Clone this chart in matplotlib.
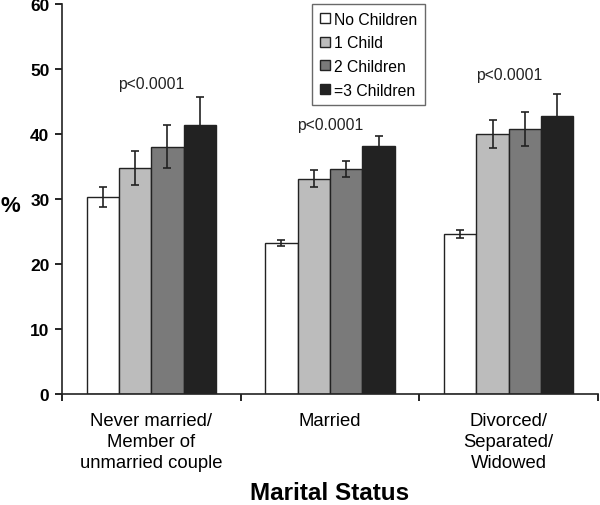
import matplotlib
matplotlib.use("Agg")
import matplotlib.pyplot as plt
import numpy as np

plt.rcParams['font.family'] = ['Liberation Sans', 'DejaVu Sans']

categories = ["Never married/\nMember of\nunmarried couple", "Married", "Divorced/\nSeparated/\nWidowed"]
series = ["No Children", "1 Child", "2 Children", "=3 Children"]
values = [
    [30.3, 23.2, 24.6],
    [34.7, 33.1, 40.0],
    [38.0, 34.6, 40.7],
    [41.4, 38.2, 42.7],
]
errors = [
    [1.5, 0.5, 0.6],
    [2.6, 1.3, 2.2],
    [3.3, 1.2, 2.6],
    [4.3, 1.5, 3.5],
]
pvalue_labels = ["p<0.0001", "p<0.0001", "p<0.0001"]
pvalue_y = [47.7, 41.5, 49.2]
colors = ["#ffffff", "#bcbcbc", "#7a7a7a", "#222222"]

fig = plt.figure(figsize=(6.0, 5.06), dpi=100)
ax = fig.add_axes([0.1033, 0.2194, 0.8934, 0.771])

x = np.arange(len(categories))
w = 0.181
for i, s in enumerate(series):
    pos = x + (i - 1.5) * w
    ax.bar(pos, values[i], width=w, color=colors[i], edgecolor="#222222",
           linewidth=1.0, label=s, zorder=2)
    ax.errorbar(pos, values[i], yerr=errors[i], fmt='none', ecolor="#222222",
                elinewidth=1.2, capsize=3, capthick=1.2, zorder=3)

for xi, lab, yy in zip(x, pvalue_labels, pvalue_y):
    ax.text(xi, yy, lab, ha='center', va='center', fontsize=11.3, color="#222222")

ax.set_xlim(-0.5, 2.5)
ax.set_ylim(0, 60)
ax.set_yticks(range(0, 61, 10))
ax.set_yticklabels([str(v) for v in range(0, 61, 10)], fontweight='bold', fontsize=12.5)
ax.set_xticks([-0.5, 0.5, 1.5, 2.5])
ax.set_xticklabels([])
ax.set_xticks(x, minor=True)
ax.set_xticklabels(categories, minor=True, fontsize=13.3, linespacing=1.32)
ax.tick_params(axis='x', which='minor', length=0, pad=13)
ax.tick_params(axis='x', which='major', length=5, width=1.2, direction='out')
ax.tick_params(axis='y', length=5, width=1.2, direction='out', pad=4)
for sp in ['top', 'right']:
    ax.spines[sp].set_visible(False)
for sp in ['left', 'bottom']:
    ax.spines[sp].set_linewidth(1.2)
    ax.spines[sp].set_color("#222222")

ax.set_ylabel("%", fontweight='bold', fontsize=16, rotation=0, va='center', ha='center')
ax.yaxis.set_label_coords(-0.097, 0.482)
ax.set_xlabel("Marital Status", fontweight='bold', fontsize=17.5, va='baseline')
ax.xaxis.set_label_coords(0.5, -0.268)

leg = ax.legend(loc='upper left', bbox_to_anchor=(0.467, 1.0), fontsize=11.3,
                frameon=True, fancybox=False, edgecolor="#444444",
                handlelength=0.6, handleheight=0.6, handletextpad=0.3,
                borderpad=0.5, labelspacing=0.55, borderaxespad=0)
leg.get_frame().set_linewidth(1.0)

fig.savefig("out.png", dpi=100)
